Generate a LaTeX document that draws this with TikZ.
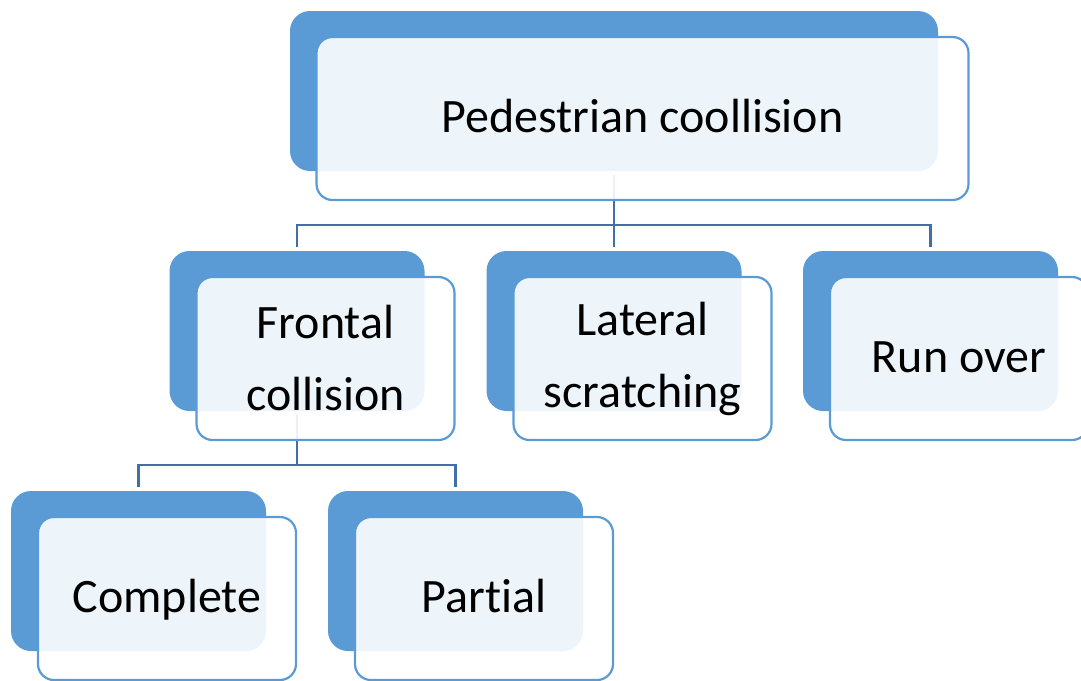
\documentclass[tikz,border=0pt]{standalone}
\usepackage{fontspec}
\setmainfont{Carlito}[Ligatures={NoCommon}]
\usetikzlibrary{positioning}
\definecolor{smartblue}{RGB}{91,155,213}
\definecolor{linkblue}{RGB}{65,112,168}

\tikzset{
  backbox/.style={rectangle, rounded corners=20pt, fill=smartblue, inner sep=0pt, minimum width=255pt, minimum height=160pt},
  frontbox/.style={rectangle, rounded corners=16pt, draw=smartblue, line width=2.2pt, fill=white, fill opacity=0.9, text opacity=1, inner sep=0pt, minimum width=258pt, minimum height=163pt, align=center, font=\fontsize{48}{72}\selectfont},
  oneline/.style={text height=27pt, text depth=0pt},
  link/.style={draw=linkblue, line width=2.3pt}
}

\begin{document}
\begin{tikzpicture}[x=1pt, y=-1pt]
  \useasboundingbox (0,0) rectangle (1081,680);
  % back boxes
  \node (topback) [backbox, minimum width=648pt] at (614,91) {};
  \node (frontalback) [backbox] at (297,331) {};
  \node (lateralback) [backbox] at (614,331) {};
  \node (runback) [backbox] at (930.5,331) {};
  \node (completeback) [backbox] at (138.5,571) {};
  \node (partialback) [backbox] at (455.5,571) {};
  % connectors
  \coordinate (bus1) at (614,225);
  \coordinate (bus2) at (297,465);
  \draw [link, shorten <=4pt] (topback.south) -- (bus1);
  \foreach \child in {frontalback, lateralback, runback}
    \draw [link, shorten >=4pt] (bus1) -| (\child.north);
  \draw [link, shorten <=4pt] (frontalback.south) -- (bus2);
  \foreach \child in {completeback, partialback}
    \draw [link, shorten >=4pt] (bus2) -| (\child.north);
  % front boxes
  \node (top) [frontbox, oneline, minimum width=652pt] at ([shift={(28.5,27.5)}]topback.center) {Pedestrian coollision};
  \node (frontal) [frontbox] at ([shift={(28.5,27.5)}]frontalback.center) {Frontal\\collision};
  \node (lateral) [frontbox] at ([shift={(28.5,27.5)}]lateralback.center) {Lateral\\scratching};
  \node (run) [frontbox, oneline] at ([shift={(28.5,27.5)}]runback.center) {Run over};
  \node (complete) [frontbox, oneline] at ([shift={(28.5,27.5)}]completeback.center) {Complete};
  \node (partial) [frontbox, oneline] at ([shift={(28.5,27.5)}]partialback.center) {Partial};
\end{tikzpicture}
\end{document}
